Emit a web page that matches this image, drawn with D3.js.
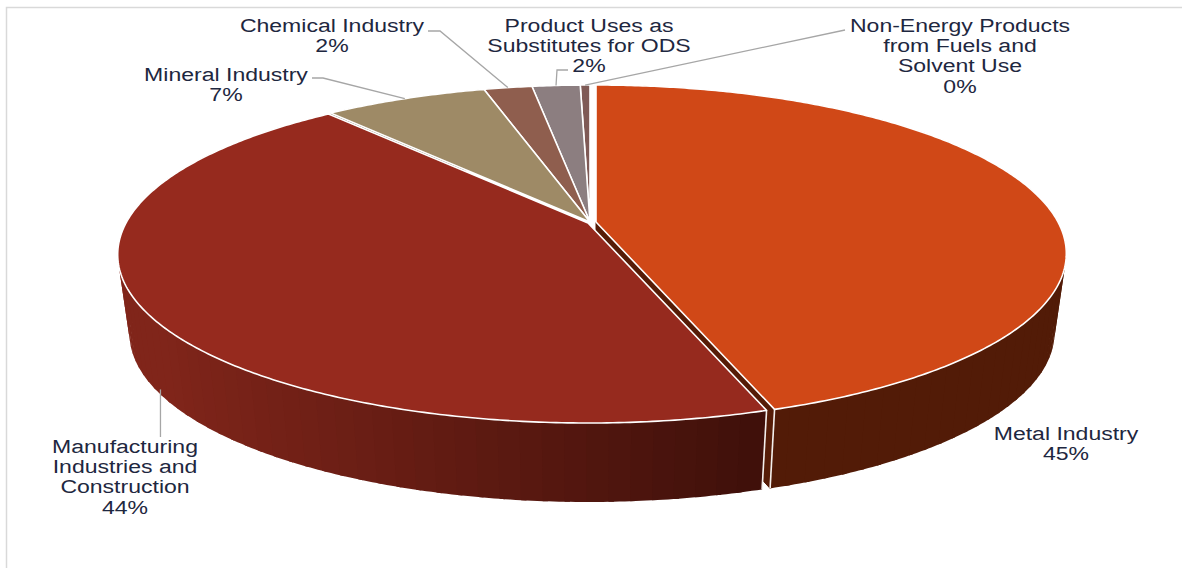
<!DOCTYPE html>
<html>
<head>
<meta charset="utf-8">
<script src="https://cdnjs.cloudflare.com/ajax/libs/d3/7.8.5/d3.min.js"></script>
<style>
  html, body { margin: 0; padding: 0; background: #fff; overflow: hidden; }
  svg { display: block; }
  text { font-family: "Liberation Sans", Arial, sans-serif; font-size: 18px; fill: #1e2740; }
</style>
</head>
<body>
<svg id="chart" width="1182" height="568"></svg>
<script>
// Sector shares of emissions, in percent
const categories = [
  "Metal Industry",
  "Manufacturing Industries and Construction",
  "Mineral Industry",
  "Chemical Industry",
  "Product Uses as Substitutes for ODS",
  "Non-Energy Products from Fuels and Solvent Use"
];
const shares = [44.85, 44.05, 6.73, 1.99, 1.98, 0.4];
const labelLines = [
  ["Metal Industry"],
  ["Manufacturing", "Industries and", "Construction"],
  ["Mineral Industry"],
  ["Chemical Industry"],
  ["Product Uses as", "Substitutes for ODS"],
  ["Non-Energy Products", "from Fuels and", "Solvent Use"]
];
const topColors = ["#d04817", "#962a1e", "#9e8a66", "#8f5e4e", "#8c7e80", "#7f5a56"];
const wallNear = ["#561c07", "#3f100a", "#5c4f3a", "#54362c", "#514849", "#493330"];
const wallFar = ["#521b07", "#80251a", "#5c4f3a", "#54362c", "#514849", "#493330"];

// Projection of the tilted disc: a circle seen in perspective
const view = { cx: 590, cy: 222, a: 462, b: 162.6, k: 0.187, depth: 79, floorScale: 0.975 };
// Slices pulled out of the pie
const explode = [{ x: 6, y: 0 }, { x: -2, y: 1 }, { x: 0, y: 0 }, { x: 0, y: 0 }, { x: 0, y: 0 }, { x: 0, y: 0 }];
// Label centres and the elbow of each leader
const labelLayout = [
  { x: 1066, y: 434 },
  { x: 125, y: 447, drop: true },
  { x: 226, y: 75, from: [312, 78], elbow: [323, 78] },
  { x: 332, y: 26, from: [428, 31], elbow: [440, 31] },
  { x: 589, y: 26, from: [568, 70], elbow: [557, 70] },
  { x: 960, y: 26, from: [845, 30] }
];

const svg = d3.select("#chart");
const pct = d3.format(".0%");
const total = d3.sum(shares);
const arcs = d3.pie().sort(null).value(d => d)(shares);

function project(theta, floor, shift) {
  const w = 1 + view.k * Math.cos(theta);
  const s = floor ? view.floorScale : 1;
  return [
    view.cx + shift.x + view.a * s * Math.sin(theta) / w,
    view.cy + shift.y + (floor ? view.depth : 0) - view.b * Math.cos(theta) / w
  ];
}
function apex(floor, shift) {
  return [view.cx + shift.x, view.cy + shift.y + (floor ? view.depth : 0)];
}
function sweep(a0, a1, step) {
  const n = Math.max(1, Math.ceil((a1 - a0) / step));
  return d3.range(n + 1).map(i => a0 + (a1 - a0) * i / n);
}
const line = d3.line();
const closed = pts => line(pts) + "Z";

// Page frame
svg.append("path").attr("d", line([[6.5, 568], [6.5, 7.5], [1182, 7.5]]))
  .attr("fill", "none").attr("stroke", "#d9d9d9").attr("stroke-width", 1.5);

const pieG = svg.append("g");
const order = [5, 4, 3, 2, 0, 1];

order.forEach(i => {
  const d = arcs[i], shift = explode[i];
  const g = pieG.append("g");

  // Cut face along the slice's closing edge; only the leading slice shows one
  if (i === 0) {
    g.append("path")
      .attr("d", closed([apex(false, shift), project(d.endAngle, false, shift), project(d.endAngle, true, shift), apex(true, shift)]))
      .attr("fill", wallNear[i]).attr("stroke", wallNear[i]);
  }

  // Outer wall, built from overlapping bands; the shade follows the rim's screen position
  const shade = d3.scaleLinear()
    .domain([project(d.endAngle, false, shift)[0], project(d.startAngle, false, shift)[0]])
    .range([wallFar[i], wallNear[i]])
    .clamp(true);
  if (i === 1) shade.domain([160, project(d.startAngle, false, shift)[0]]);
  const stops = sweep(d.startAngle, d.endAngle, 0.04);
  d3.pairs(stops).reverse().forEach(([t0, t1], n) => {
    // Each band reaches under its already painted neighbour, hiding the joins
    const reach = n === 0 ? t1 : t1 + 0.01;
    const col = shade(project((t0 + t1) / 2, false, shift)[0]);
    const rimPts = sweep(t0, reach, 0.01);
    g.append("path")
      .attr("d", closed([
        ...rimPts.map(t => project(t, false, shift)),
        ...rimPts.slice().reverse().map(t => project(t, true, shift))
      ]))
      .attr("fill", col);
  });

  // White seams at the wall ends
  [d.startAngle, d.endAngle].forEach(t => {
    if (Math.cos(t) < 0 && (Math.sin(t) > 0.05 || i === 0)) {
      g.append("path").attr("d", line([project(t, false, shift), project(t, true, shift)]))
        .attr("stroke", "#f4efec").attr("stroke-width", 1.6).attr("fill", "none");
    }
  });

  // Top face
  const rim = sweep(d.startAngle, d.endAngle, 0.01).map(t => project(t, false, shift));
  g.append("path")
    .attr("d", closed([apex(false, shift), ...rim]))
    .attr("fill", topColors[i]).attr("stroke", "#fff").attr("stroke-width", 1.6).attr("stroke-linejoin", "round");
});

// Leader lines run from the label to the middle of the slice's rim
const leaders = svg.append("g").attr("fill", "none").attr("stroke", "#a6a6a6").attr("stroke-width", 1.3);
labelLayout.forEach((p, i) => {
  const mid = (arcs[i].startAngle + arcs[i].endAngle) / 2;
  if (p.drop) {
    const end = project(mid, true, explode[i]);
    leaders.append("path").attr("d", line([[end[0] + 5, end[1]], [end[0] + 5, p.y - 10]]));
  } else if (p.from) {
    const end = project(mid, false, explode[i]);
    const pts = p.elbow ? [p.from, p.elbow, end] : [p.from, end];
    leaders.append("path").attr("d", line(pts));
  }
});

// Labels: the type is set wide
const widen = 1.28, lineGap = 20.2;
const labels = svg.append("g");
labelLayout.forEach((p, i) => {
  const rows = [...labelLines[i], pct(shares[i] / total)];
  const t = labels.append("text")
    .attr("transform", `translate(${p.x},${p.y}) scale(${widen},1)`)
    .attr("text-anchor", "middle");
  rows.forEach((r, j) => {
    t.append("tspan").attr("x", 0).attr("y", j * lineGap + 6).text(r);
  });
});
</script>
</body>
</html>
